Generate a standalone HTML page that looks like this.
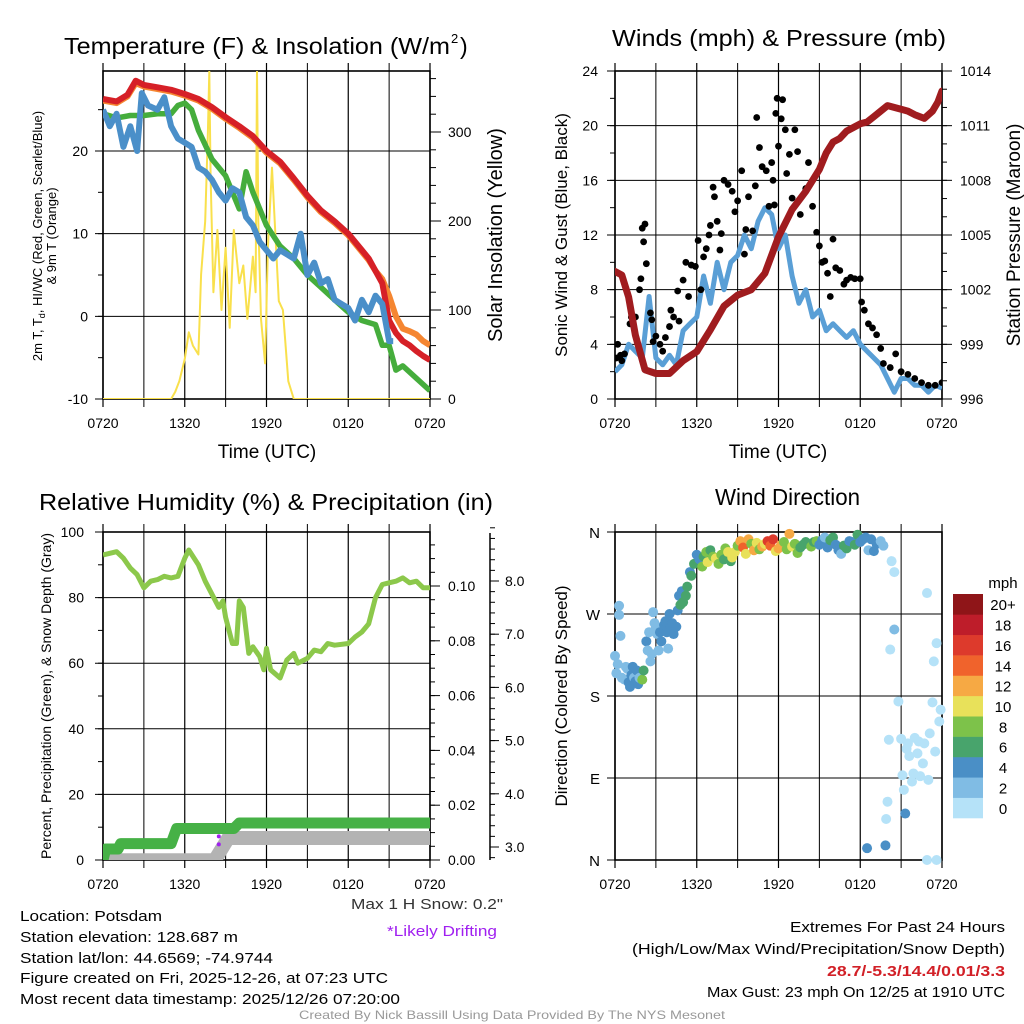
<!DOCTYPE html>
<html><head><meta charset="utf-8"><style>
html,body{margin:0;padding:0;background:#fff}
svg{display:block;font-family:"Liberation Sans",Arial,sans-serif}
</style></head><body>
<svg id="s" width="1024" height="1024" viewBox="0 0 1024 1024" xmlns="http://www.w3.org/2000/svg">
<defs>
<clipPath id="cTL"><rect x="103" y="71" width="327" height="328"/></clipPath>
<clipPath id="cTR"><rect x="615" y="71" width="327" height="328"/></clipPath>
<clipPath id="cBL"><rect x="103" y="532" width="327" height="328"/></clipPath>
<clipPath id="cBR"><rect x="610" y="527" width="337" height="338"/></clipPath>
</defs>
<g id="g"></g>
</svg>
<script>
// ---------- DATA ----------
const timeTicks=["0720","1320","1920","0120","0720"];
const tempT=[0,1,1.8,2.4,3,4,5,6,7,8,9,10,11,12,13,14,15,16,17,18,19,19.5,20,20.5,21,21.5,22,22.5,23,23.5,24];
const tempRed=[26.3,26,26.8,28.5,28,27.7,27.4,26.9,26.3,25.3,24.1,23,21.8,20,18.7,16.7,14.6,12.8,11.5,10,8,7,5.5,4,-0.5,-2,-3,-3.5,-4.2,-4.8,-5.3];
const tempOrange=[26.1,25.8,26.6,28.2,27.8,27.5,27.2,26.7,26.1,25.1,23.9,22.8,21.6,19.8,18.5,16.5,14.4,12.6,11.3,9.8,7.8,6.8,5.5,4.5,2.5,0,-1.5,-1.8,-2.2,-3,-3.5];
const dewT=[0,1,2,3,4,5,5.5,6,6.5,7,8,9,10,10.5,11,12,13,14,15,16,17,18,19,20,20.5,21,21.5,22,23,24];
const dewGreen=[24.5,24,24.3,24.3,24.5,24.5,25.5,25.8,25,22.5,19,17,13,17.5,15,11,8.5,7,5,3.5,2,0.5,-0.5,-1,-3.5,-3.5,-6.5,-6,-7.5,-9];
const wcT=[0,0.5,1,1.5,2,2.5,2.85,3.3,4,4.5,5,5.5,6,6.5,7,7.5,8,8.5,9,9.5,10,10.5,11,11.5,12,12.5,13,13.5,14,14.5,15,15.5,16,16.5,17,17.5,18,18.5,19,19.5,20,20.5,21,21.3];
const wcBlue=[25,23,24.5,20.5,23,20,27,25.5,25,26.5,23,21.5,21,20.5,18,17.5,16.5,15,14,15.5,15,12,11,9,8,7,8,7.5,7,10,5,6.5,4,4.5,2,1.5,1,-0.5,2,0.5,2.5,1.5,-3,-3];
const insT=[0,5,5.3,5.6,6,6.3,6.6,7,7.2,7.5,7.7,7.8,7.9,8.1,8.4,8.7,9,9.3,9.6,10,10.3,10.6,11,11.2,11.3,11.4,11.6,11.9,12.1,12.4,12.6,12.9,13.2,13.6,14,24];
const insVal=[0,0,8,20,45,75,60,50,140,200,300,368,250,120,190,100,170,80,190,130,150,90,160,120,368,200,90,40,170,260,200,110,100,20,0,0];
const windT=[0,0.5,1,1.5,2,2.5,3,3.5,4,4.5,5,5.5,6,6.5,7,7.5,8,8.5,9,9.5,10,10.5,11,11.5,12,12.5,13,13.5,14,14.5,15,15.5,16,16.5,17,17.5,18,18.5,19,19.5,20,20.5,21,21.5,22,22.5,23,23.5,24];
const windVal=[2,2.5,4,3.5,3,7.5,3,2.5,3.2,2.5,5,5.5,6,9,7,10,8,10,10.5,12,11,13,14,13.5,11,12,9,7,8,6,6.5,5,5.5,5,4.5,5,4,3.5,3,2.5,1.5,0.5,1.5,1.5,1,1,0.5,1,0.8];
const gustT=[0.1,0.2,0.4,0.5,0.7,1.1,1.2,1.5,1.8,1.9,2.0,2.1,2.2,2.3,2.6,2.7,2.8,3.0,3.3,3.5,3.7,4.0,4.1,4.3,4.6,4.7,5.0,5.2,5.4,5.6,5.9,6.1,6.3,6.5,6.7,6.9,7.0,7.2,7.3,7.5,7.7,7.8,8.0,8.3,8.6,8.8,9.0,9.3,9.5,9.6,9.8,10.1,10.3,10.4,10.6,10.8,11.1,11.3,11.5,11.6,11.7,11.8,11.9,12.0,12.2,12.3,12.5,12.6,12.8,13.0,13.2,13.4,13.6,14.0,14.2,14.5,14.8,15.0,15.2,15.4,15.6,15.8,16.0,16.2,16.5,16.8,17.0,17.3,17.6,18.0,18.1,18.3,18.6,18.9,19.2,19.5,19.7,20.2,20.6,21,21.5,22,22.5,23,23.5,24];
const gustVal=[3,4,3.2,2.8,3.3,5.5,6,6,8,8.8,12.5,11.5,12.8,9.9,6.3,5.8,4.2,4.6,4,3.5,4.5,5.3,6.5,6,7.9,5.7,8.7,10,7.5,9.8,9.7,11.6,8,10.4,11,12,12.7,15.5,14.8,13,10.9,12.1,16,15.7,15.2,13.7,14.5,16.7,10.6,12.4,14.8,12.3,15.6,20.6,18.4,17,16.7,14.1,17.3,16,14.2,20.9,22,18.5,20.5,21.9,19.7,16.5,17.9,14.7,19.7,18.1,13.5,15.4,17.3,14.1,12.2,11.2,10,10.1,9.2,7.5,11.7,9.6,9.4,8.4,8.7,8.9,8.8,8.8,7.1,6.5,5.5,5.2,4.7,3.7,2.6,2.3,3.3,2,1.8,1.5,1.2,1,1,1.2];
const presT=[0,0.5,1,1.5,2.2,3,4,5,6,7,8,9,10,11,12,13,14,15,15.5,16,16.5,17,17.5,18,18.5,19,19.5,20,21,21.5,22,22.7,23.3,23.7,24];
const presVal=[1003.0,1002.8,1001.6,999.5,997.6,997.4,997.4,998.1,998.6,999.8,1001.1,1001.7,1002.0,1002.9,1004.9,1006.4,1007.4,1008.6,1009.5,1010.1,1010.3,1010.7,1010.9,1011.1,1011.2,1011.5,1011.8,1012.1,1011.9,1011.8,1011.6,1011.4,1011.8,1012.3,1012.9];
const rhT=[0,0.5,1,1.5,2,2.5,3,3.5,4,4.5,5,5.5,6,6.3,7,7.5,8,8.5,8.8,9,9.5,9.8,10,10.3,10.7,11,11.5,11.8,12,12.3,13,13.5,14,14.3,15,15.5,16,16.5,17,18,18.5,19,19.5,20,20.5,21,21.5,22,22.5,23,23.5,24];
const rhVal=[93,93.5,94,92,89,87,83,85,85.5,86.5,86,86.5,92,94.5,90,85,81,77,79,74,66,66,79,77,63,65,62,58,64.5,58,55.5,61,63,60,61.5,64,63.5,66,65.5,66,68,69.5,72,80,84,84.5,85,86,84.5,85,83,83];
const precipT=[0,0.2,0.5,1.1,1.3,5.0,5.4,9.6,10.0,24];
const precipVal=[0,0.004,0.004,0.004,0.006,0.006,0.0115,0.0115,0.0135,0.0135];
const snowT=[0,8.2,9.2,24];
const snowVal=[2.75,2.75,3.17,3.17];
const driftT=[8.5,8.5];
const driftVal=[3.05,3.2];
const dirT=[0,0.1,0.2,0.3,0.3,0.4,0.5,0.7,0.8,0.9,1.0,1.1,1.2,1.3,1.4,1.5,1.6,1.7,1.8,2.0,2.1,2.3,2.4,2.5,2.6,2.7,2.8,2.9,3.0,3.1,3.2,3.3,3.4,3.6,3.7,3.8,3.9,4.0,4.1,4.2,4.3,4.5,4.6,4.7,4.8,4.9,5.0,5.2,5.3,5.5,5.6,5.8,6.0,6.2,6.4,6.5,6.7,6.8,7.0,7.2,7.4,7.6,7.8,8.0,8.1,8.3,8.5,8.6,8.8,9.0,9.2,9.4,9.6,9.8,10.0,10.2,10.4,10.6,10.8,11.0,11.2,11.4,11.6,11.8,12.0,12.2,12.4,12.6,12.8,13.0,13.2,13.4,13.6,13.8,14.0,14.2,14.4,14.6,14.8,15.0,15.2,15.4,15.6,15.8,16.0,16.2,16.4,16.6,16.8,17.0,17.2,17.4,17.6,17.8,18.0,18.2,18.4,18.5,18.6,18.8,19.0,19.2,19.5,19.7,19.85,19.9,20.0,20.1,20.2,20.3,20.5,20.5,20.8,21.0,21.1,21.2,21.3,21.4,21.5,21.6,21.8,21.9,22.0,22.2,22.3,22.4,22.6,22.7,22.9,22.9,23.0,23.1,23.3,23.4,23.5,23.6,23.6,23.8,23.9,24];
const dirDeg=[224,205,215,279,269,246,200,198,212,210,195,190,203,212,200,196,208,193,200,198,208,240,230,250,218,226,272,260,255,248,230,250,240,258,262,250,232,270,257,260,248,256,274,290,280,295,283,290,300,316,312,325,335,330,322,333,338,327,340,333,331,325,335,330,342,338,328,332,338,345,350,343,336,352,347,340,348,341,344,347,350,345,352,339,342,346,349,341,358,344,347,337,343,346,349,347,344,349,350,346,351,354,343,351,354,346,340,336,345,342,350,349,346,357,349,352,354,13,340,352,339,347,350,345,16,45,64,132,231,328,253,316,174,133,93,77,51,122,128,114,86,95,134,117,130,92,106,128,0,293,88,139,173,218,119,0,238,152,165];
const dirSpd=[2,2,3,2,2,2,2,3,2,2,4,4,4,4,3,4,4,5,3,8,6,4,2,3,2,2,2,2,2,2,2,4,4,4,4,4,3,4,4,4,5,4,4,5,6,4,6,6,7,4,6,6,4,5,8,6,8,10,6,8,10,8,8,6,8,10,7,10,10,8,12,14,10,12,8,12,10,8,12,10,16,14,16,10,12,12,9,8,13,10,8,8,7,6,6,7,8,7,9,4,5,3,4,6,6,4,4,3,6,6,5,4,7,6,5,4,4,4,2,4,4,4,2,2,4,1,1,1,1,1,2,1,1,1,1,1,4,1,1,1,1,1,1,1,1,1,1,1,1,1,1,1,1,1,1,1,1,1,1,1,1];
const speedLabels=["0","2","4","6","8","10","12","14","16","18","20+"];
const speedColors=["#b5e2f8","#80bce4","#4a8fc6","#48a46c","#7dc24a","#e8e15a","#f6a944","#f0632c","#dd3a2c","#be1d2a","#8f1518"];
const tempTicks=[-10,0,10,20];
const insTicks=[0,100,200,300];
const windTicks=[0,4,8,12,16,20,24];
const presTicks=[996,999,1002,1005,1008,1011,1014];
const rhTicks=[0,20,40,60,80,100];
const precipTicks=["0.00","0.02","0.04","0.06","0.08","0.10"];
const snowTicks=["3.0","4.0","5.0","6.0","7.0","8.0"];
const dirLabels=["N","E","S","W","N"];

// ---------- helpers ----------
const NS="http://www.w3.org/2000/svg";
const root=document.getElementById('g');
function mk(tag,attrs,parent){const e=document.createElementNS(NS,tag);for(const k in attrs)e.setAttribute(k,attrs[k]);(parent||root).appendChild(e);return e;}
function txt(str,x,y,size,anchor,parent,extra){const e=mk('text',Object.assign({x:x,y:y,'font-size':size,'text-anchor':anchor||'start',fill:'#000'},extra||{}),parent);e.textContent=str;return e;}
const X0L=103,X0R=615,W=327;
function xs(x0){return t=>x0+t*W/24;}
function lin(v0,v1,p0,p1){return v=>p0+(v-v0)*(p1-p0)/(v1-v0);}
function path(T,V,xf,yf){let d='';for(let i=0;i<T.length;i++){if(V[i]==null)continue;d+=(d?'L':'M')+xf(T[i]).toFixed(1)+' '+yf(V[i]).toFixed(1);}return d;}
function frame(x0,top,name){
  const g=mk('g',{});
  
  
  for(let h=0;h<=24;h+=3){const x=x0+h*W/24;mk('line',{x1:x,x2:x,y1:top-8,y2:top+336,stroke:'#000','stroke-width':h%6==0?1.2:1},g);}
  mk('rect',{x:x0,y:top,width:W,height:328,fill:'none',stroke:'#000','stroke-width':1.6},g);
  timeTicks.forEach((s,i)=>{const t=txt(s,x0+i*81.75,top+357,14,'middle',g);});
  return g;
}
function hgrid(x0,yvals,yf,g){yvals.forEach(v=>{mk('line',{x1:x0-8,x2:x0+W,y1:yf(v),y2:yf(v),stroke:'#000','stroke-width':1},g);});}

// ---------- TL ----------
{
 const xf=xs(X0L),yT=lin(-10,20,399,151),yI=lin(0,300,399,132);
 const g=frame(X0L,71,'temperature-panel');
 hgrid(X0L,tempTicks,yT,g);
 for(let v=-10;v<=28;v+=5)mk('line',{x1:X0L-5,x2:X0L,y1:yT(v),y2:yT(v),stroke:'#000'},g);
 tempTicks.forEach(v=>{const t=txt(String(v),88,yT(v)+5,14,'end',g);});
 for(let v=0;v<=360;v+=20)mk('line',{x1:430,x2:436,y1:yI(v),y2:yI(v),stroke:'#000'},g);
 insTicks.forEach(v=>{mk('line',{x1:430,x2:441,y1:yI(v),y2:yI(v),stroke:'#000'},g);const t=txt(String(v),448,yI(v)+5,14,'start',g);});
 const c=mk('g',{'clip-path':'url(#cTL)'});
 let p;
 p=mk('path',{d:path(insT,insVal,xf,yI),fill:'none',stroke:'#f9e04c','stroke-width':2,'stroke-linejoin':'round'},c);
 p=mk('path',{d:path(tempT,tempOrange,xf,yT),fill:'none',stroke:'#f58631','stroke-width':6,'stroke-linejoin':'round'},c);
 p=mk('path',{d:path(tempT,tempRed,xf,yT),fill:'none',stroke:'#d62027','stroke-width':6,'stroke-linejoin':'round'},c);
 p=mk('path',{d:path(dewT,dewGreen,xf,yT),fill:'none',stroke:'#45ad3c','stroke-width':5.5,'stroke-linejoin':'round'},c);
 p=mk('path',{d:path(wcT,wcBlue,xf,yT),fill:'none',stroke:'#4a8fc9','stroke-width':6,'stroke-linejoin':'round'},c);
 let t=txt('Temperature (F) & Insolation (W/m',64,54,23,'start',null,{textLength:386,lengthAdjust:'spacingAndGlyphs'});
 t=txt('2',451,43,13);
 t=txt(')',460,54,23);
 const yl=mk('g',{transform:'translate(42,236) rotate(-90)'});
 
 const t1=mk('text',{x:0,y:0,'font-size':13,'text-anchor':'middle'},yl);t1.innerHTML='2m T, T<tspan font-size="9" dy="3">d</tspan><tspan dy="-3">, HI/WC (Red, Green, Scarlet/Blue)</tspan>';
 txt('& 9m T (Orange)',0,14,13,'middle',yl);
 t=txt('Solar Insolation (Yellow)',0,0,20,'middle',null,{transform:'translate(502,235) rotate(-90)'});
 t=txt('Time (UTC)',267,458,19,'middle');
}
// ---------- TR ----------
{
 const xf=xs(X0R),yW=lin(0,24,399,71),yP=lin(996,1014,399,71);
 const g=frame(X0R,71,'wind-panel');
 hgrid(X0R,windTicks,yW,g);
 for(let v=0;v<=24;v+=2)mk('line',{x1:X0R-5,x2:X0R,y1:yW(v),y2:yW(v),stroke:'#000'},g);
 windTicks.forEach(v=>{const t=txt(String(v),598,yW(v)+5,14,'end',g);});
 for(let v=996;v<=1014;v+=1)mk('line',{x1:942,x2:947,y1:yP(v),y2:yP(v),stroke:'#000'},g);
 presTicks.forEach(v=>{mk('line',{x1:942,x2:952,y1:yP(v),y2:yP(v),stroke:'#000'},g);const t=txt(String(v),960,yP(v)+5,14,'start',g);});
 const c=mk('g',{'clip-path':'url(#cTR)'});
 let p=mk('path',{d:path(windT,windVal,xf,yW),fill:'none',stroke:'#5a9fd6','stroke-width':5,'stroke-linejoin':'round'},c);
 gustT.forEach((tt,i)=>{const d=mk('circle',{cx:xf(tt),cy:yW(gustVal[i]),r:3.4,fill:'#000'},c);
  
  });
 p=mk('path',{d:path(presT,presVal,xf,yP),fill:'none',stroke:'#a01c1f','stroke-width':7,'stroke-linejoin':'round','stroke-linecap':'round'},c);
 let t=txt('Winds (mph) & Pressure (mb)',612,46,23,'start',null,{textLength:334,lengthAdjust:'spacingAndGlyphs'});
 t=txt('Sonic Wind & Gust (Blue, Black)',0,0,17,'middle',null,{transform:'translate(567,235) rotate(-90)'});
 t=txt('Station Pressure (Maroon)',0,0,19,'middle',null,{transform:'translate(1020,235) rotate(-90)'});
 t=txt('Time (UTC)',778,458,19,'middle');
}
// ---------- BL ----------
{
 const xf=xs(X0L),yR=lin(0,100,860,532),yPr=lin(0,0.1,860,586),yS=lin(3,8,847,581);
 const g=frame(X0L,532,'humidity-panel');
 hgrid(X0L,rhTicks,yR,g);
 for(let v=0;v<=100;v+=10)mk('line',{x1:X0L-5,x2:X0L,y1:yR(v),y2:yR(v),stroke:'#000'},g);
 rhTicks.forEach(v=>{const t=txt(String(v),84,yR(v)+5,14,'end',g);});
 for(let v=0;v<=0.12;v+=0.005)mk('line',{x1:430,x2:435,y1:yPr(v),y2:yPr(v),stroke:'#000'},g);
 precipTicks.forEach(s=>{const v=parseFloat(s);mk('line',{x1:430,x2:440,y1:yPr(v),y2:yPr(v),stroke:'#000'},g);const t=txt(s,448,yPr(v)+5,14,'start',g);});
 mk('line',{x1:490,x2:490,y1:533,y2:860,stroke:'#000','stroke-width':1.5},g);
 for(let v=2.8;v<=9.02;v+=0.2)mk('line',{x1:490,x2:495,y1:yS(v),y2:yS(v),stroke:'#000'},g);
 snowTicks.forEach(s=>{const v=parseFloat(s);mk('line',{x1:490,x2:499,y1:yS(v),y2:yS(v),stroke:'#000'},g);const t=txt(s,505,yS(v)+5,14,'start',g);});
 const c=mk('g',{'clip-path':'url(#cBL)'});
 let p=mk('path',{d:path(snowT,snowVal,xf,yS),fill:'none',stroke:'#b3b3b3','stroke-width':14,'stroke-linejoin':'round','stroke-linecap':'round'},c);
 driftT.forEach((tt,i)=>{const d=mk('circle',{cx:xf(tt),cy:yS(driftVal[i]),r:2,fill:'#a020f0'},c);
  
  });
 p=mk('path',{d:path(precipT,precipVal,xf,yPr),fill:'none',stroke:'#46b146','stroke-width':11,'stroke-linejoin':'round','stroke-linecap':'round'},c);
 p=mk('path',{d:path(rhT,rhVal,xf,yR),fill:'none',stroke:'#8cc84b','stroke-width':5,'stroke-linejoin':'round'},c);
 let t=txt('Relative Humidity (%) & Precipitation (in)',39,510,23,'start',null,{textLength:454,lengthAdjust:'spacingAndGlyphs'});
 t=txt('Percent, Precipitation (Green), & Snow Depth (Gray)',0,0,14,'middle',null,{transform:'translate(51,696) rotate(-90)'});
}
// ---------- BR ----------
{
 const xf=xs(X0R),yD=lin(0,360,860,532);
 const g=frame(X0R,532,'direction-panel');
 dirLabels.forEach((s,i)=>{const v=i*90;mk('line',{x1:X0R-8,x2:X0R+W,y1:yD(v),y2:yD(v),stroke:'#000'},g);const t=txt(s,600,yD(v)+6,15,'end',g);});
 const c=mk('g',{'clip-path':'url(#cBR)'});
 dirT.forEach((tt,i)=>{const k=Math.min(10,Math.floor(dirSpd[i]/2));const d=mk('circle',{cx:xf(tt),cy:yD(dirDeg[i]),r:5,fill:speedColors[k]},c);
  
  });
 const lg=mk('g',{});
 
 const bh=224/11;
 speedLabels.forEach((s,i)=>{const y=818-(i+1)*bh;mk('rect',{x:953,y:y,width:30,height:bh+0.3,fill:speedColors[i]},lg);const t=txt(s,1003,y+bh/2+6,15,'middle',lg);});
 txt('mph',1003,588,15,'middle',lg);
 let t=txt('Wind Direction',715,505,23,'start',null,{textLength:145,lengthAdjust:'spacingAndGlyphs'});
 t=txt('Direction (Colored By Speed)',0,0,17,'middle',null,{transform:'translate(567,696) rotate(-90)'});
}
// ---------- footer ----------
{
 const L=[["Location: Potsdam",921,142],["Station elevation: 128.687 m",942,218],["Station lat/lon: 44.6569; -74.9744",963,253],["Figure created on Fri, 2025-12-26, at 07:23 UTC",983,368],["Most recent data timestamp: 2025/12/26 07:20:00",1004,380]];
 L.forEach(a=>{const t=txt(a[0],20,a[1],15,'start',null,{textLength:a[2],lengthAdjust:'spacingAndGlyphs'});});
 let t=txt('Max 1 H Snow: 0.2"',503,909,15,'end',null,{fill:'#333',textLength:152,lengthAdjust:'spacingAndGlyphs'});
 t=txt('*Likely Drifting',497,936,15,'end',null,{fill:'#a020f0',textLength:110,lengthAdjust:'spacingAndGlyphs'});
 const R=[["Extremes For Past 24 Hours",932,215,'#000'],["(High/Low/Max Wind/Precipitation/Snow Depth)",954,373,'#000'],["Max Gust: 23 mph On 12/25 at 1910 UTC",997,298,'#000']];
 R.forEach(a=>{const t=txt(a[0],1005,a[1],15,'end',null,{fill:a[3],textLength:a[2],lengthAdjust:'spacingAndGlyphs'});});
 t=txt('28.7/-5.3/14.4/0.01/3.3',1005,976,15,'end',null,{fill:'#d22027','font-weight':'bold',textLength:178,lengthAdjust:'spacingAndGlyphs'});
 t=txt('Created By Nick Bassill Using Data Provided By The NYS Mesonet',512,1019,12,'middle',null,{fill:'#999',textLength:426,lengthAdjust:'spacingAndGlyphs'});
}
</script>
</body></html>
